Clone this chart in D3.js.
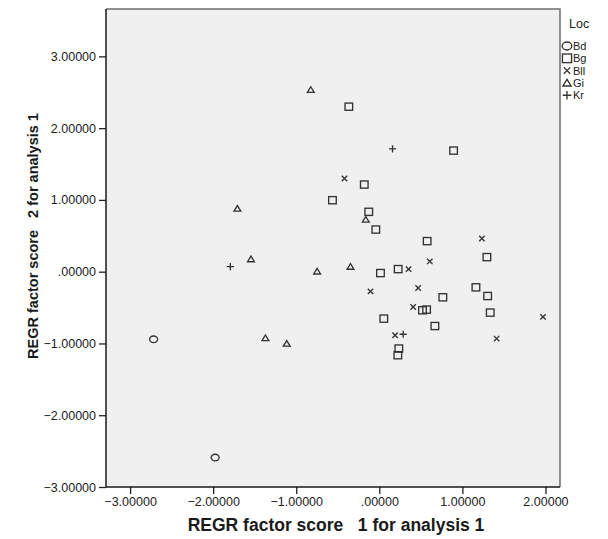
<!DOCTYPE html>
<html>
<head>
<meta charset="utf-8">
<script src="https://cdn.jsdelivr.net/npm/d3@7"></script>
<style>
  body { margin: 0; background: #fff; }
  svg { display: block; font-family: "Liberation Sans", Arial, sans-serif; }
</style>
</head>
<body>
<div class="chart"></div>
<script>
// factor scores per location (x = factor 1, y = factor 2)
const locations = ["Bd", "Bg", "Bll", "Gi", "Kr"]

const bdScores = [[-2.717, -0.942], [-1.976, -2.590]]

const bgScores = [
  [-0.367, 2.299], [0.894, 1.687], [-0.181, 1.214], [-0.564, 0.996],
  [-0.127, 0.834], [-0.042, 0.587], [0.576, 0.426], [1.295, 0.203],
  [0.014, -0.019], [0.227, 0.036], [1.163, -0.218], [1.304, -0.339],
  [0.765, -0.357], [0.520, -0.538], [0.569, -0.528], [1.335, -0.570],
  [0.054, -0.654], [0.669, -0.757], [0.235, -1.071], [0.223, -1.164]
]

const bllScores = [
  [-0.419, 1.298], [1.235, 0.463], [0.608, 0.143], [0.352, 0.036],
  [-0.106, -0.274], [0.467, -0.228], [0.407, -0.492], [0.190, -0.886],
  [1.412, -0.932], [1.970, -0.630]
]

const giScores = [
  [-0.825, 2.535], [-1.708, 0.880], [-1.545, 0.175], [-0.749, 0.004],
  [-0.347, 0.070], [-0.163, 0.727], [-1.371, -0.924], [-1.114, -1.001]
]

const krScores = [[-1.793, 0.070], [0.159, 1.711], [0.287, -0.872]]

const xTicks = [-3, -2, -1, 0, 1, 2]
const yTicks = [-3, -2, -1, 0, 1, 2, 3]

const width = 608,
  height = 539

const plot = { left: 106, right: 560, top: 9, bottom: 487 }

let svg = d3.select(".chart").append("svg")
  .attr("width", width)
  .attr("height", height)

const x = d3.scaleLinear().domain([-3.29, 2.175]).range([plot.left, plot.right])
const y = d3.scaleLinear().domain([-3, 3.66]).range([plot.bottom, plot.top])

// SPSS style: ".00000" instead of "0.00000"
function formatTick(v) {
  return d3.format(".5f")(v).replace(/^0\./, ".").replace(/^-0\./, "-.")
}

svg.append("rect")
  .attr("x", plot.left).attr("y", plot.top)
  .attr("width", plot.right - plot.left).attr("height", plot.bottom - plot.top)
  .attr("fill", "#f0f0f0")

// top and right border are grey, the axes black
svg.append("path")
  .attr("d", `M${plot.left},${plot.top}H${plot.right}V${plot.bottom}`)
  .attr("fill", "none").attr("stroke", "#6e6e6e").attr("stroke-width", 1.5)

let xAxis = svg.append("g")
  .attr("transform", `translate(0,${plot.bottom})`)
  .call(d3.axisBottom(x).tickValues(xTicks).tickSize(7).tickPadding(3).tickFormat(formatTick))

let yAxis = svg.append("g")
  .attr("transform", `translate(${plot.left},0)`)
  .call(d3.axisLeft(y).tickValues(yTicks).tickSize(7).tickPadding(3).tickFormat(formatTick))

for (const ax of [xAxis, yAxis]) {
  ax.select(".domain").remove()
  ax.selectAll(".tick line").attr("stroke", "#222").attr("stroke-width", 1.3)
  ax.selectAll(".tick text")
    .attr("fill", "#222")
    .style("font-size", "12.5px")
    .style("font-family", "'Liberation Sans', Arial, sans-serif")
}

svg.append("path")
  .attr("d", `M${plot.left},${plot.top}V${plot.bottom}H${plot.right}`)
  .attr("fill", "none").attr("stroke", "#1a1a1a").attr("stroke-width", 1.5)

// axis titles
svg.append("text")
  .attr("x", 336)
  .attr("y", 531)
  .attr("text-anchor", "middle")
  .attr("xml:space", "preserve")
  .style("font-size", "17.5px").style("font-weight", "bold").attr("fill", "#1a1a1a")
  .text("REGR factor score   1 for analysis 1")

svg.append("text")
  .attr("transform", "translate(38,236) rotate(-90)")
  .attr("text-anchor", "middle")
  .attr("xml:space", "preserve")
  .style("font-size", "14.5px").style("font-weight", "bold").attr("fill", "#1a1a1a")
  .text("REGR factor score   2 for analysis 1")

// marker drawing, one per location (k = size factor)
function drawMarker(g, loc, cx, cy, k = 1) {
  const s = { fill: "none", stroke: "#333", "stroke-width": 1.35 }
  let m
  if (loc == "Bd") {
    m = g.append("ellipse").attr("cx", cx).attr("cy", cy).attr("rx", 4 * k).attr("ry", 3.3 * k)
  } else if (loc == "Bg") {
    m = g.append("rect").attr("x", cx - 3.8 * k).attr("y", cy - 3.6 * k).attr("width", 7.6 * k).attr("height", 7.2 * k)
  } else if (loc == "Bll") {
    const a = 2.7 * k
    m = g.append("path").attr("d", `M${cx - a},${cy - a}L${cx + a},${cy + a}M${cx - a},${cy + a}L${cx + a},${cy - a}`)
  } else if (loc == "Gi") {
    m = g.append("path").attr("d", `M${cx},${cy - 3 * k}L${cx + 3.4 * k},${cy + 2.6 * k}L${cx - 3.4 * k},${cy + 2.6 * k}Z`)
  } else {
    const a = 3.6 * k
    m = g.append("path").attr("d", `M${cx - a},${cy}H${cx + a}M${cx},${cy - a}V${cy + a}`)
  }
  for (const p in s) m.attr(p, s[p])
}

const groups = [bdScores, bgScores, bllScores, giScores, krScores]
let points = svg.append("g")
groups.forEach(function (scores, i) {
  scores.forEach(function (d) {
    drawMarker(points, locations[i], x(d[0]), y(d[1]))
  })
})

// legend
let legend = svg.append("g")
legend.append("text").attr("x", 569).attr("y", 28)
  .style("font-size", "12.5px").attr("fill", "#222").text("Loc")
locations.forEach(function (loc, i) {
  const ly = 46 + i * 12.3
  drawMarker(legend, loc, 567, ly, 1.2)
  legend.append("text").attr("x", 573).attr("y", ly + 4)
    .style("font-size", "11px").attr("fill", "#222").text(loc)
})
</script>
</body>
</html>
